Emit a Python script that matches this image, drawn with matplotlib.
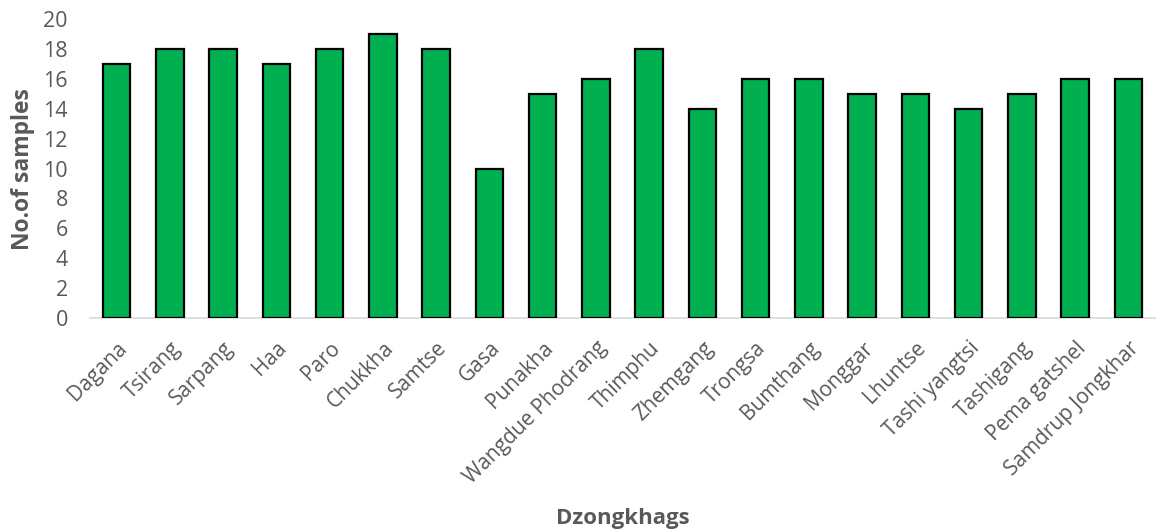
import matplotlib.pyplot as plt
import matplotlib.transforms as mtransforms
import numpy as np

plt.rcParams['font.family'] = ['Open Sans', 'DejaVu Sans']

districts = ['Dagana', 'Tsirang', 'Sarpang', 'Haa', 'Paro', 'Chukkha', 'Samtse',
             'Gasa', 'Punakha', 'Wangdue Phodrang', 'Thimphu', 'Zhemgang',
             'Trongsa', 'Bumthang', 'Monggar', 'Lhuntse', 'Tashi yangtsi',
             'Tashigang', 'Pema gatshel', 'Samdrup Jongkhar']
samples = [17, 18, 18, 17, 18, 19, 18, 10, 15, 16, 18, 14, 16, 16, 15, 15, 14, 15, 16, 16]

fig = plt.figure(figsize=(11.64, 5.31), dpi=100)
ax = fig.add_axes([0.0773, 0.401, 0.915, 0.563])

x = np.arange(len(districts))
ax.bar(x, samples, width=0.52, color='#00B050', edgecolor='black', linewidth=1.6, zorder=3)

ax.set_xlim(-0.5, len(districts) - 0.5)
ax.set_ylim(0, 20)
ax.set_yticks(range(0, 21, 2))
ax.set_xticks(x)
ax.set_xticklabels(districts, rotation=45, ha='right', rotation_mode='anchor')

# nudge the slanted names right so their ends sit under the bars
shift = mtransforms.ScaledTranslation(12 / 72, 0, fig.dpi_scale_trans)
for lbl in ax.get_xticklabels():
    lbl.set_transform(lbl.get_transform() + shift)

for s in ['top', 'right', 'left']:
    ax.spines[s].set_visible(False)
ax.spines['bottom'].set_color('#d9d9d9')
ax.spines['bottom'].set_linewidth(1.2)
ax.tick_params(axis='both', length=0, labelsize=15, labelcolor='#595959')
ax.tick_params(axis='x', pad=14)
ax.tick_params(axis='y', labelsize=15.5, pad=16)

ax.set_ylabel('No.of samples', fontsize=16.5, fontweight='bold', color='#595959', labelpad=6)
ax.set_xlabel('Dzongkhags', fontsize=16, fontweight='bold', color='#595959', labelpad=14)

fig.savefig('out.png', dpi=100)
